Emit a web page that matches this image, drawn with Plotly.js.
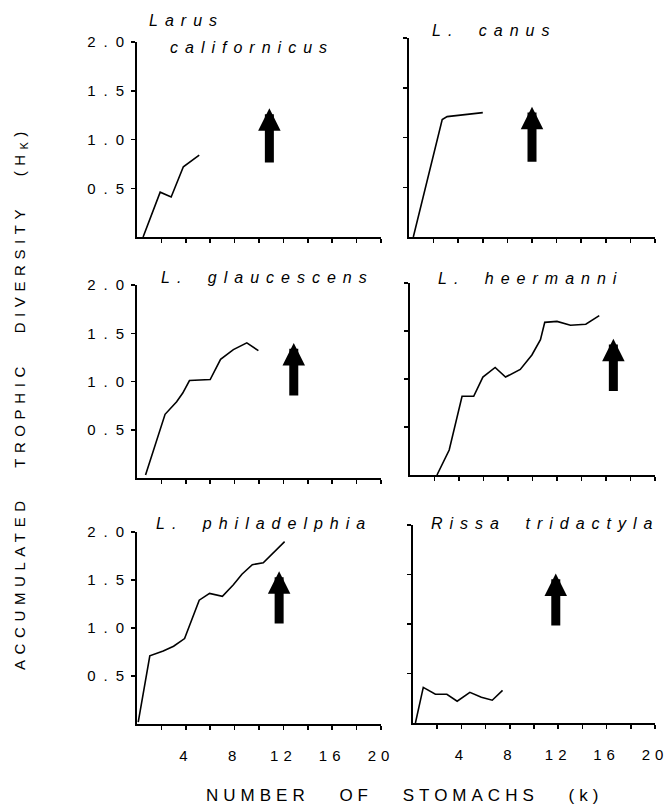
<!DOCTYPE html>
<html><head><meta charset="utf-8">
<script src="https://cdn.plot.ly/plotly-3.0.1.min.js"></script>
<style>
html,body{margin:0;padding:0;background:#fff;}
#chart{width:672px;height:807px;}
.x5tick text,.x6tick text{letter-spacing:5px;}
.ytick text,.y3tick text,.y5tick text{letter-spacing:8px;}
text.annotation-text[style*="16px"]{letter-spacing:7px;word-spacing:8px;}
text.annotation-text[style*="17px"]{letter-spacing:5px;word-spacing:20px;}
text.annotation-text[style*="15px"]{letter-spacing:5.6px;word-spacing:18px;}
</style>
</head><body>
<div id="chart"></div>
<script>
// ---- data ----
const species = ["Larus<br>californicus", "L. canus", "L. glaucescens", "L. heermanni", "L. philadelphia", "Rissa tridactyla"];

const calX = [0.5, 1.9, 2.8, 3.8, 5.1];
const calY = [0.0, 0.46, 0.41, 0.72, 0.84];
const canX = [0.35, 2.7, 3.1, 6.0];
const canY = [0.0, 1.18, 1.21, 1.25];
const glaX = [0.7, 2.3, 3.25, 3.75, 4.3, 6.0, 6.85, 7.9, 9.0, 9.95];
const glaY = [0.03, 0.66, 0.79, 0.88, 1.01, 1.02, 1.23, 1.33, 1.40, 1.32];
const heeX = [2.2, 3.2, 4.25, 5.2, 5.95, 6.95, 7.8, 9.0, 9.95, 10.65, 11.0, 12.0, 13.1, 14.35, 15.45];
const heeY = [0.0, 0.26, 0.82, 0.82, 1.02, 1.12, 1.02, 1.10, 1.25, 1.41, 1.59, 1.60, 1.56, 1.57, 1.66];
const phiX = [0.1, 0.55, 1.05, 2.15, 3.0, 3.9, 5.1, 5.95, 7.0, 7.9, 8.6, 9.45, 10.35, 12.1];
const phiY = [0.02, 0.35, 0.71, 0.76, 0.81, 0.89, 1.29, 1.36, 1.33, 1.45, 1.56, 1.66, 1.68, 1.90];
const risX = [0.2, 0.85, 1.85, 2.8, 3.65, 4.7, 5.65, 6.55, 7.4];
const risY = [0.0, 0.36, 0.29, 0.29, 0.22, 0.31, 0.26, 0.23, 0.33];

// arrows (k position, tip and base in H units)
const arrowX    = [10.85, 10.0, 12.85, 16.6, 11.65, 11.8];
const arrowTip  = [1.32, 1.31, 1.40, 1.42, 1.59, 1.51];
const arrowBase = [0.75, 0.74, 0.84, 0.86, 1.03, 0.97];

const xTickVals = [2, 4, 6, 8, 10, 12, 14, 16, 18, 20];
const xTickText = ["", "4", "", "8", "", "12", "", "16", "", "20"];
const yTickVals = [0.5, 1.0, 1.5, 2.0];
const yTickText = ["0.5", "1.0", "1.5", "2.0"];

const xTitle = "NUMBER OF STOMACHS (k)";
const yTitle = "ACCUMULATED TROPHIC DIVERSITY (H<sub>K</sub>)";

// ---- layout geometry (pixels) ----
const W = 672, H = 807;
const panels = [
  {x0:137, x1:381, yb:237, yt:42,  label:[147, 21]},
  {x0:409, x1:655, yb:237, yt:38,  label:[430, 30]},
  {x0:137, x1:381, yb:478, yt:285, label:[159, 277]},
  {x0:410, x1:655, yb:475, yt:283, label:[436, 278]},
  {x0:137, x1:381, yb:724, yt:532, label:[154, 523]},
  {x0:413, x1:655, yb:723, yt:525, label:[429, 523]}
];
const seriesX = [calX, canX, glaX, heeX, phiX, risX];
const seriesY = [calY, canY, glaY, heeY, phiY, risY];

const FONT = "Liberation Sans, Arial, sans-serif";
const traces = [];
const layout = {
  width: W, height: H,
  margin: {l:0, r:0, t:0, b:0},
  paper_bgcolor: "#fff", plot_bgcolor: "#fff",
  showlegend: false,
  font: {family: FONT, color: "#000"},
  annotations: []
};

panels.forEach((p, i) => {
  const n = i + 1;
  const xs = n === 1 ? "x" : "x" + n;
  const ys = n === 1 ? "y" : "y" + n;
  const xk = n === 1 ? "xaxis" : "xaxis" + n;
  const yk = n === 1 ? "yaxis" : "yaxis" + n;
  traces.push({
    type: "scatter", mode: "lines", x: seriesX[i], y: seriesY[i],
    xaxis: xs, yaxis: ys, line: {color: "#000", width: 1.6}, hoverinfo: "skip"
  });
  const bottom = i >= 4, left = i % 2 === 0;
  layout[xk] = {
    domain: [p.x0 / W, p.x1 / W], anchor: ys, range: [0, 20],
    showline: true, linecolor: "#000", linewidth: 2, zeroline: false, showgrid: false,
    ticks: "outside", ticklen: 4, tickwidth: 1.5, tickcolor: "#000",
    tickmode: "array", tickvals: xTickVals, ticktext: xTickText,
    showticklabels: bottom, ticklabelstandoff: 13,
    tickfont: {family: FONT, size: 15, color: "#000"}, automargin: false, fixedrange: true
  };
  layout[yk] = {
    domain: [1 - p.yb / H, 1 - p.yt / H], anchor: xs, range: [0, 2],
    showline: true, linecolor: "#000", linewidth: 2, zeroline: false, showgrid: false,
    ticks: "outside", ticklen: 4, tickwidth: 1.5, tickcolor: "#000",
    tickmode: "array", tickvals: yTickVals, ticktext: yTickText,
    showticklabels: left, ticklabelstandoff: -4,
    tickfont: {family: FONT, size: 15, color: "#000"}, automargin: false, fixedrange: true
  };
  // species label
  const lines = species[i].split("<br>");
  lines.forEach((t, j) => {
    layout.annotations.push({
      xref: "paper", yref: "paper",
      x: (j === 0 ? p.label[0] : 168) / W,
      y: 1 - (j === 0 ? p.label[1] : 48) / H,
      xanchor: "left", yanchor: "middle", showarrow: false, text: t,
      font: {family: FONT, size: 16, style: "italic", color: "#000"}
    });
  });
  // arrow
  layout.annotations.push({
    xref: xs, yref: ys, axref: xs, ayref: ys,
    x: arrowX[i], y: arrowTip[i], ax: arrowX[i], ay: arrowBase[i],
    text: "", showarrow: true, arrowhead: 2, arrowsize: 0.5, arrowwidth: 9,
    arrowcolor: "#000", standoff: 0
  });
});

layout.annotations.push({
  xref: "paper", yref: "paper", x: 404 / W, y: 1 - 795 / H,
  xanchor: "center", yanchor: "middle", showarrow: false, text: xTitle,
  font: {family: FONT, size: 17, color: "#000"}
});
layout.annotations.push({
  xref: "paper", yref: "paper", x: 20 / W, y: 1 - 398 / H,
  xanchor: "center", yanchor: "middle", showarrow: false, text: yTitle,
  textangle: -90, font: {family: FONT, size: 15, color: "#000"}
});

Plotly.newPlot("chart", traces, layout, {staticPlot: true, displayModeBar: false});
</script>
</body></html>
